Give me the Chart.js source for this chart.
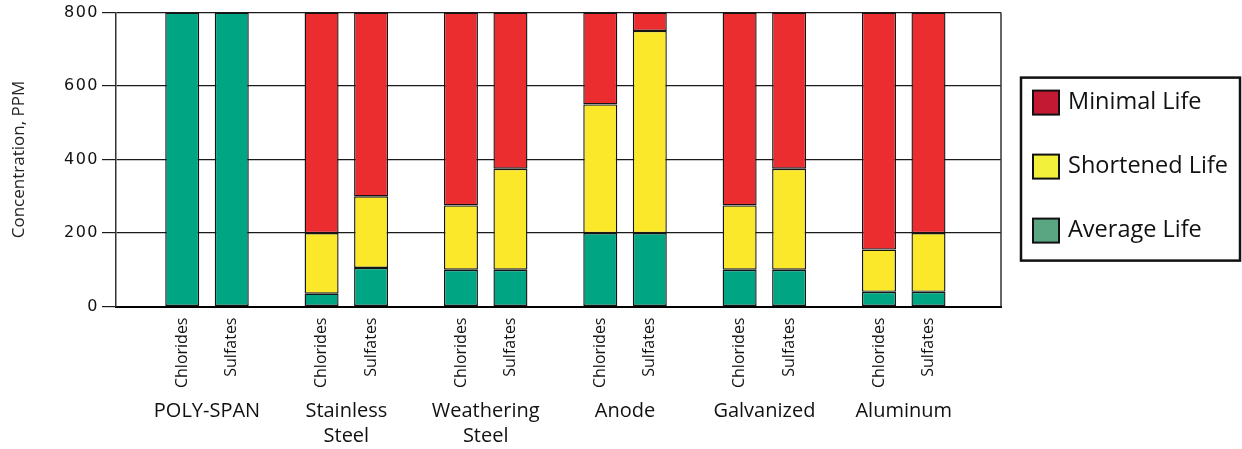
<!DOCTYPE html>
<html>
<head>
<meta charset="utf-8">
<script src="https://cdn.jsdelivr.net/npm/chart.js@4.4.1/dist/chart.umd.min.js"></script>
<style>
  html, body { margin: 0; padding: 0; background: #ffffff; }
  canvas { display: block; }
</style>
</head>
<body>
<canvas id="c" width="1242" height="449"></canvas>
<script>
// ---- data ----
const groups = ['POLY-SPAN', ['Stainless', 'Steel'], ['Weathering', 'Steel'], 'Anode', 'Galvanized', 'Aluminum'];
const subCategories = ['Chlorides', 'Sulfates'];
const seriesNames = ['Average Life', 'Shortened Life', 'Minimal Life'];
const yTickValues = [0, 200, 400, 600, 800];

// segment heights (PPM), bottom to top
const averageChlorides   = [800, 35, 100, 200, 100, 40];
const shortenedChlorides = [0, 165, 175, 350, 175, 115];
const minimalChlorides   = [0, 600, 525, 250, 525, 645];
const averageSulfates    = [800, 105, 100, 200, 100, 40];
const shortenedSulfates  = [0, 195, 275, 550, 275, 160];
const minimalSulfates    = [0, 500, 425, 50, 425, 600];

// ---- styles ----
const barColors = ['#00A583', '#FCE82A', '#EB2D2F'];
const legendColors = ['#5AA582', '#F3F03C', '#C41932'];
const FONT = '"Open Sans", "Noto Sans", sans-serif';

const stacks = [
  { name: subCategories[0], values: [averageChlorides, shortenedChlorides, minimalChlorides] },
  { name: subCategories[1], values: [averageSulfates, shortenedSulfates, minimalSulfates] }
];

const datasets = [];
stacks.forEach(s => {
  s.values.forEach((vals, k) => {
    datasets.push({
      label: seriesNames[k],
      stack: s.name,
      subLabel: k === 0,
      data: vals.map((v, i) => ({ x: i, y: v })),
      backgroundColor: barColors[k],
      borderColor: '#151515',
      borderWidth: 1.4,
      borderSkipped: false,
      categoryPercentage: 0.7105,
      barPercentage: 0.687
    });
  });
});

const framePlugin = {
  id: 'frame',
  beforeDraw(chart) {
    const y = chart.scales.y;
    if (y && !y._lsPatched) {
      const orig = y.drawLabels.bind(y);
      y.drawLabels = function (area) {
        const ctx = this.ctx;
        ctx.save();
        ctx.letterSpacing = '1.5px';
        orig(area);
        ctx.restore();
      };
      y._lsPatched = true;
    }
  },
  afterDatasetsDraw(chart) {
    const ctx = chart.ctx;
    const ca = chart.chartArea;
    // right frame line
    ctx.save();
    ctx.strokeStyle = '#333';
    ctx.lineWidth = 1.5;
    ctx.beginPath();
    ctx.moveTo(ca.right, ca.top);
    ctx.lineTo(ca.right, ca.bottom);
    ctx.stroke();
    ctx.restore();
    // rotated sub-category labels under each bar
    chart.data.datasets.forEach((ds, di) => {
      if (!ds.subLabel) return;
      const meta = chart.getDatasetMeta(di);
      meta.data.forEach(el => {
        ctx.save();
        ctx.translate(el.x, ca.bottom + 11);
        ctx.rotate(-Math.PI / 2);
        ctx.font = '16px ' + FONT;
        ctx.fillStyle = '#111';
        ctx.textAlign = 'right';
        ctx.textBaseline = 'middle';
        ctx.fillText(ds.stack, 0, 0);
        ctx.restore();
      });
    });
  },
  afterDraw(chart) {
    const ctx = chart.ctx;
    const ca = chart.chartArea;
    const bx = ca.right + 20, by = ca.top + 65, bw = 219, bh = 183;
    ctx.save();
    ctx.fillStyle = '#fff';
    ctx.fillRect(bx, by, bw, bh);
    ctx.lineWidth = 2.5;
    ctx.strokeStyle = '#111';
    ctx.strokeRect(bx, by, bw, bh);
    const order = [2, 1, 0];
    order.forEach((k, j) => {
      const cy = by + 25 + j * 64;
      ctx.fillStyle = legendColors[k];
      ctx.fillRect(bx + 12, cy - 12, 26, 24);
      ctx.lineWidth = 2;
      ctx.strokeStyle = '#111';
      ctx.strokeRect(bx + 12, cy - 12, 26, 24);
      ctx.fillStyle = '#111';
      ctx.font = '23.5px ' + FONT;
      ctx.textAlign = 'left';
      ctx.textBaseline = 'middle';
      ctx.fillText(seriesNames[k], bx + 47, cy);
    });
    ctx.restore();
  }
};

new Chart(document.getElementById('c'), {
  type: 'bar',
  data: { datasets },
  options: {
    responsive: false,
    animation: false,
    devicePixelRatio: 1,
    layout: { padding: { top: 12, right: 241, bottom: 0, left: 0 } },
    plugins: { legend: { display: false }, tooltip: { enabled: false } },
    scales: {
      x: {
        type: 'linear',
        min: -0.653,
        max: 5.698,
        offset: false,
        stacked: true,
        grid: { display: false, drawTicks: false, offset: false },
        border: { display: true, color: '#000', width: 2 },
        ticks: {
          stepSize: 1,
          includeBounds: false,
          autoSkip: false,
          maxRotation: 0,
          minRotation: 0,
          padding: 92.5,
          color: '#111',
          font: { family: FONT, size: 20, lineHeight: 1.25 },
          callback: (v) => groups[v]
        },
        afterBuildTicks: (axis) => {
          axis.ticks = axis.ticks.filter(t => Number.isInteger(t.value) && t.value >= 0 && t.value < groups.length);
        },
        afterFit: (axis) => { axis.height = 142.5; }
      },
      y: {
        stacked: true,
        min: yTickValues[0],
        max: yTickValues[yTickValues.length - 1],
        afterBuildTicks: (axis) => { axis.ticks = yTickValues.map(v => ({ value: v })); },
        grid: { color: '#1a1a1a', lineWidth: 1.2, drawTicks: true, tickLength: 14 },
        border: { display: true, color: '#333', width: 1.5 },
        ticks: {
          padding: 3,
          color: '#111',
          font: { family: '"DejaVu Sans", sans-serif', size: 16 }
        },
        title: {
          display: true,
          text: 'Concentration, PPM',
          color: '#222',
          font: { family: FONT, size: 17, lineHeight: 1.2 },
          padding: { top: 9, bottom: 0 }
        },
        afterFit: (axis) => { axis.width = 116; }
      }
    }
  },
  plugins: [framePlugin]
});
</script>
</body>
</html>
